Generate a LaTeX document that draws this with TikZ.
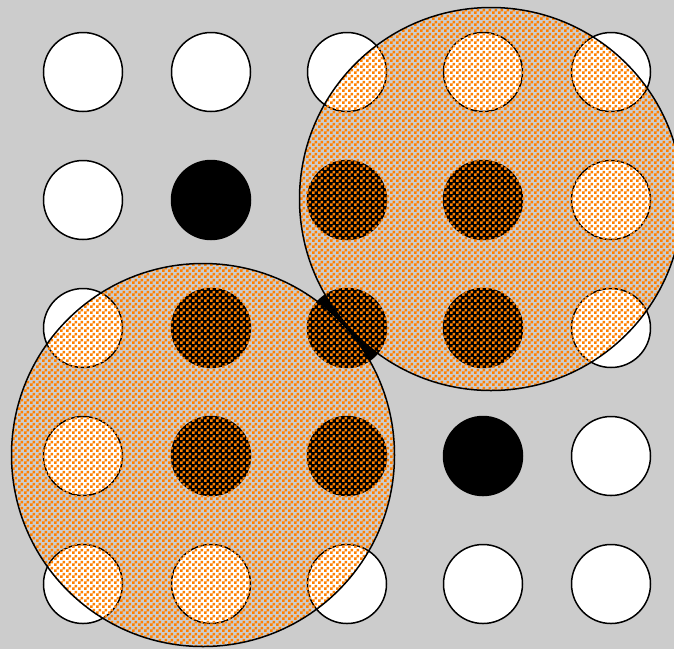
\documentclass[tikz,border=0pt]{standalone}
\usetikzlibrary{patterns}
\definecolor{BgGrey}{RGB}{204,204,204}
\definecolor{CheckOrange}{RGB}{255,128,0}
\pgfdeclarepatternformonly{coarse checker}{\pgfpointorigin}{\pgfqpoint{6pt}{6pt}}{\pgfqpoint{6pt}{6pt}}{%
  \pgfpathrectangle{\pgfpointorigin}{\pgfqpoint{3pt}{3pt}}%
  \pgfpathrectangle{\pgfqpoint{3pt}{3pt}}{\pgfqpoint{3pt}{3pt}}%
  \pgfusepath{fill}}

\begin{document}
\begin{tikzpicture}[
  x=1pt, y=-1pt,
  disc/.style={circle, draw=black, line width=1.5pt, fill=white,
               minimum size=79pt, inner sep=0pt},
  blackdisc/.style={disc, fill=black},
  zone/.style={circle, draw=black, line width=1.5pt, inner sep=0pt,
               minimum size=383pt, pattern=coarse checker,
               pattern color=CheckOrange}
]
  \fill[BgGrey] (0,0) rectangle (674,649);
  \useasboundingbox (0,0) rectangle (674,649);

  %% Row 1  (y = 72)
  \node[disc]      (d11) at (83,  72) {};
  \node[disc]      (d12) at (211, 72) {};
  \node[disc]      (d13) at (347, 72) {};
  \node[disc]      (d14) at (483, 72) {};
  \node[disc]      (d15) at (611, 72) {};

  %% Row 2  (y = 200)
  \node[disc]      (d21) at (83,  200) {};
  \node[blackdisc] (d22) at (211, 200) {};
  \node[blackdisc] (d23) at (347, 200) {};
  \node[blackdisc] (d24) at (483, 200) {};
  \node[disc]      (d25) at (611, 200) {};

  %% Row 3  (y = 328)
  \node[disc]      (d31) at (83,  328) {};
  \node[blackdisc] (d32) at (211, 328) {};
  \node[blackdisc] (d33) at (347, 328) {};
  \node[blackdisc] (d34) at (483, 328) {};
  \node[disc]      (d35) at (611, 328) {};

  %% Row 4  (y = 456)
  \node[disc]      (d41) at (83,  456) {};
  \node[blackdisc] (d42) at (211, 456) {};
  \node[blackdisc] (d43) at (347, 456) {};
  \node[blackdisc] (d44) at (483, 456) {};
  \node[disc]      (d45) at (611, 456) {};

  %% Row 5  (y = 584)
  \node[disc]      (d51) at (83,  584) {};
  \node[disc]      (d52) at (211, 584) {};
  \node[disc]      (d53) at (347, 584) {};
  \node[disc]      (d54) at (483, 584) {};
  \node[disc]      (d55) at (611, 584) {};

  %% Checkered zones
  \node[zone] (zoneA) at (491, 199) {};
  \node[zone] (zoneB) at (203, 455) {};
\end{tikzpicture}
\end{document}
